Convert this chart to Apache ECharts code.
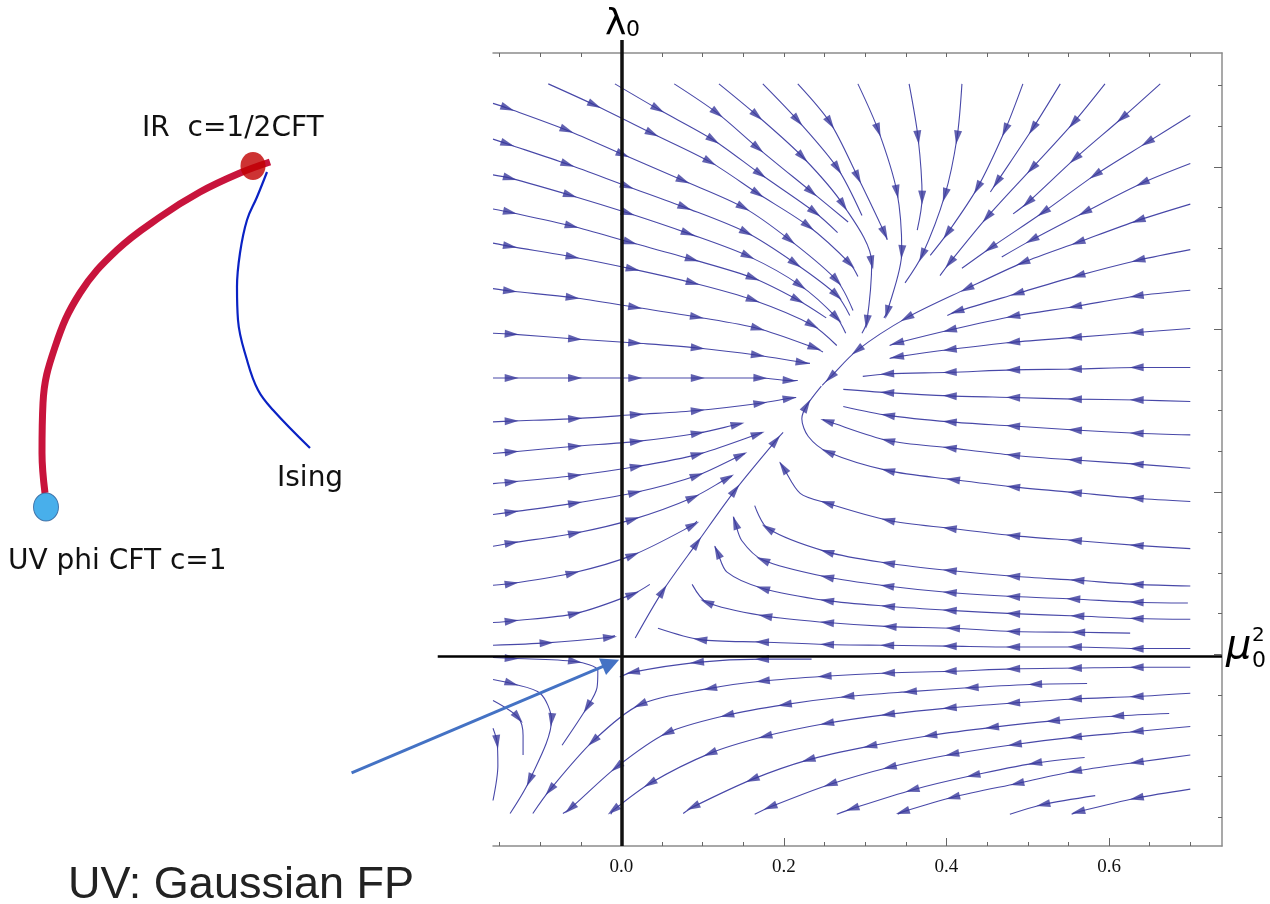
<!DOCTYPE html>
<html>
<head>
<meta charset="utf-8">
<script src="https://cdn.jsdelivr.net/npm/echarts@6/dist/echarts.min.js"></script>
<style>
  html, body { margin: 0; padding: 0; background: #fff; }
  #chart { width: 1270px; height: 904px; }
</style>
</head>
<body>
<div id="chart"></div>
<script>
// flow diagram: mu0^2 horizontally, lambda0 vertically
const xRange = [-0.158, 0.739];
const yRange = [-0.236, 0.740];
const xMinorTicks = [-0.15, -0.1, -0.05, 0, 0.05, 0.1, 0.15, 0.2, 0.25, 0.3, 0.35, 0.4, 0.45, 0.5, 0.55, 0.6, 0.65, 0.7];
const xLabelTicks = [0, 0.2, 0.4, 0.6];
const yMinorTicks = [-0.2, -0.15, -0.1, -0.05, 0, 0.05, 0.1, 0.15, 0.2, 0.25, 0.3, 0.35, 0.4, 0.45, 0.5, 0.55, 0.6, 0.65, 0.7];
const yMajorTicks = [0, 0.2, 0.4, 0.6];

// streamlines, in flow order. first / last point = ends of the line,
// points in between carry an arrowhead, unless marked with a trailing 0 (bend only)
const leftRows = [
  [[-0.158,0.678],[-0.140,0.672],[-0.067,0.645],[0.002,0.615],[0.076,0.583],[0.150,0.550],[0.207,0.510],[0.265,0.460],[0.285,0.423]],
  [[-0.158,0.634],[-0.140,0.628],[-0.066,0.603],[0.007,0.576],[0.078,0.550],[0.154,0.519],[0.214,0.481],[0.265,0.442],[0.281,0.417]],
  [[-0.158,0.590],[-0.137,0.586],[-0.063,0.565],[0.008,0.543],[0.082,0.518],[0.156,0.490],[0.220,0.454],[0.265,0.414],[0.276,0.395]],
  [[-0.158,0.548],[-0.137,0.544],[-0.061,0.527],[0.011,0.507],[0.087,0.486],[0.162,0.463],[0.217,0.436],[0.252,0.414]],
  [[-0.158,0.506],[-0.137,0.502],[-0.060,0.489],[0.014,0.474],[0.088,0.457],[0.162,0.436],[0.235,0.405],[0.265,0.380]],
  [[-0.158,0.450],[-0.137,0.447],[-0.060,0.439],[0.017,0.427],[0.093,0.415],[0.168,0.401],[0.238,0.377],[0.248,0.372]],
  [[-0.158,0.395],[-0.135,0.394],[-0.057,0.388],[0.017,0.383],[0.094,0.377],[0.168,0.368],[0.223,0.359],[0.232,0.358]],
  [[-0.158,0.340],[-0.135,0.340],[-0.057,0.340],[0.017,0.340],[0.094,0.340],[0.171,0.340],[0.207,0.337],[0.217,0.337]],
  [[-0.158,0.286],[-0.135,0.287],[-0.057,0.290],[0.019,0.295],[0.094,0.300],[0.171,0.309],[0.207,0.315],[0.215,0.316]],
  [[-0.158,0.247],[-0.135,0.249],[-0.057,0.256],[0.019,0.262],[0.094,0.272],[0.143,0.283],[0.148,0.284]],
  [[-0.158,0.210],[-0.135,0.212],[-0.057,0.220],[0.019,0.231],[0.094,0.246],[0.168,0.271],[0.173,0.273]],
  [[-0.158,0.172],[-0.135,0.175],[-0.057,0.186],[0.017,0.199],[0.093,0.220],[0.147,0.245],[0.152,0.247]],
  [[-0.158,0.133],[-0.135,0.137],[-0.057,0.149],[0.014,0.166],[0.088,0.193],[0.131,0.217],[0.136,0.219]],
  [[-0.158,0.085],[-0.135,0.087],[-0.060,0.100],[0.014,0.122],[0.088,0.159],[0.093,0.164]],
  [[-0.158,0.039],[-0.135,0.041],[-0.057,0.050],[0.014,0.074],[0.035,0.086]],
  [[-0.158,0.011],[-0.092,0.014],[-0.014,0.021],[-0.008,0.023]]
];

const topLines = [
  [[-0.090,0.702],[-0.033,0.676],[0.038,0.641],[0.109,0.606],[0.168,0.567],[0.230,0.527],[0.281,0.481],[0.291,0.465]],
  [[-0.008,0.702],[0.045,0.671],[0.113,0.633],[0.171,0.591],[0.238,0.544],[0.266,0.519]],
  [[0.065,0.702],[0.118,0.666],[0.168,0.623],[0.234,0.569],[0.279,0.532]],
  [[0.120,0.702],[0.167,0.663],[0.223,0.612],[0.273,0.553],[0.308,0.482],[0.302,0.409],[0.296,0.395]],
  [[0.174,0.702],[0.217,0.657],[0.266,0.598],[0.296,0.540]],
  [[0.217,0.702],[0.257,0.654],[0.291,0.587],[0.324,0.518],[0.327,0.510]],
  [[0.291,0.702],[0.316,0.645],[0.339,0.569],[0.345,0.495],[0.327,0.421],[0.323,0.414]],
  [[0.354,0.702],[0.365,0.636],[0.370,0.562],[0.364,0.522]],
  [[0.419,0.702],[0.413,0.636],[0.398,0.565],[0.370,0.491],[0.349,0.457]],
  [[0.494,0.702],[0.472,0.645],[0.438,0.574],[0.401,0.518],[0.380,0.491]],
  [[0.540,0.702],[0.506,0.647],[0.462,0.581],[0.454,0.569]],
  [[0.595,0.702],[0.556,0.654],[0.505,0.598],[0.450,0.538],[0.404,0.482],[0.392,0.466]],
  [[0.663,0.702],[0.616,0.660],[0.558,0.610],[0.500,0.556],[0.482,0.542]]
];

const rightRows = [
  [[0.700,0.663],[0.647,0.630],[0.583,0.590],[0.519,0.544],[0.454,0.500],[0.419,0.475]],
  [[0.700,0.604],[0.641,0.580],[0.570,0.544],[0.505,0.510],[0.468,0.489]],
  [[0.700,0.554],[0.636,0.534],[0.562,0.507],[0.494,0.482],[0.425,0.450],[0.351,0.414],[0.290,0.374],[0.257,0.341],[0.247,0.331]],
  [[0.700,0.498],[0.636,0.485],[0.562,0.466],[0.487,0.444],[0.413,0.422],[0.401,0.417]],
  [[0.700,0.448],[0.634,0.441],[0.558,0.428],[0.482,0.416],[0.404,0.399],[0.339,0.383],[0.330,0.380]],
  [[0.700,0.401],[0.634,0.396],[0.558,0.390],[0.482,0.384],[0.404,0.375],[0.339,0.366],[0.330,0.364]],
  [[0.700,0.353],[0.634,0.353],[0.558,0.351],[0.482,0.350],[0.404,0.347],[0.327,0.345],[0.297,0.342]],
  [[0.700,0.311],[0.634,0.313],[0.558,0.314],[0.482,0.316],[0.404,0.318],[0.327,0.322],[0.273,0.326]],
  [[0.700,0.270],[0.634,0.272],[0.558,0.276],[0.482,0.281],[0.404,0.286],[0.328,0.294],[0.273,0.305]],
  [[0.700,0.229],[0.634,0.234],[0.558,0.239],[0.482,0.245],[0.404,0.254],[0.328,0.263],[0.253,0.287],[0.248,0.289]],
  [[0.700,0.188],[0.634,0.192],[0.558,0.199],[0.482,0.206],[0.408,0.215],[0.328,0.226],[0.254,0.249],[0.230,0.268,0],[0.222,0.290,0],[0.228,0.306],[0.246,0.330]],
  [[0.700,0.130],[0.634,0.134],[0.558,0.140],[0.482,0.146],[0.404,0.155],[0.328,0.165],[0.253,0.186],[0.220,0.198,0],[0.199,0.230],[0.195,0.236]],
  [[0.700,0.084],[0.634,0.086],[0.561,0.091],[0.482,0.096],[0.404,0.103],[0.328,0.112],[0.253,0.126],[0.180,0.155],[0.164,0.183]],
  [[0.697,0.063],[0.634,0.064],[0.556,0.068],[0.482,0.071],[0.404,0.076],[0.327,0.084],[0.253,0.095],[0.174,0.116],[0.148,0.140,0],[0.140,0.162],[0.138,0.169]],
  [[0.700,0.043],[0.634,0.044],[0.561,0.047],[0.482,0.050],[0.404,0.054],[0.328,0.059],[0.253,0.066],[0.174,0.081],[0.130,0.101,0],[0.118,0.126],[0.115,0.133]],
  [[0.626,0.026],[0.562,0.027],[0.482,0.028],[0.408,0.032],[0.330,0.034],[0.253,0.039],[0.177,0.047],[0.105,0.064],[0.087,0.086]],
  [[0.700,0.007],[0.634,0.007],[0.558,0.009],[0.482,0.009],[0.404,0.010],[0.327,0.011],[0.253,0.012],[0.173,0.015],[0.097,0.018],[0.045,0.032]],
  [[0.017,0.020],[0.051,0.078],[0.093,0.137],[0.140,0.202],[0.190,0.263],[0.199,0.273]]
];

const lowerRows = [
  [[0.234,-0.006],[0.173,-0.006],[0.093,-0.010],[0.014,-0.022],[-0.002,-0.028]],
  [[0.700,-0.016],[0.634,-0.016],[0.558,-0.017],[0.482,-0.018],[0.404,-0.021],[0.328,-0.023],[0.250,-0.027],[0.174,-0.033],[0.109,-0.042],[0.023,-0.062],[-0.035,-0.107],[-0.088,-0.167],[-0.109,-0.196]],
  [[0.573,-0.036],[0.509,-0.037],[0.431,-0.041],[0.355,-0.046],[0.278,-0.052],[0.201,-0.062],[0.130,-0.075],[0.056,-0.097],[-0.006,-0.139],[-0.063,-0.190],[-0.072,-0.196]],
  [[0.700,-0.048],[0.634,-0.052],[0.558,-0.055],[0.482,-0.060],[0.404,-0.066],[0.328,-0.074],[0.253,-0.085],[0.177,-0.101],[0.109,-0.122],[0.035,-0.159],[-0.010,-0.192],[-0.013,-0.197]],
  [[0.674,-0.073],[0.610,-0.076],[0.531,-0.082],[0.456,-0.090],[0.380,-0.100],[0.306,-0.113],[0.230,-0.130],[0.161,-0.154],[0.088,-0.188],[0.076,-0.196]],
  [[0.700,-0.089],[0.634,-0.095],[0.558,-0.102],[0.484,-0.111],[0.407,-0.123],[0.330,-0.139],[0.257,-0.160],[0.183,-0.188],[0.164,-0.197]],
  [[0.570,-0.127],[0.509,-0.134],[0.433,-0.149],[0.358,-0.167],[0.284,-0.190],[0.265,-0.197]],
  [[0.700,-0.124],[0.634,-0.133],[0.558,-0.144],[0.487,-0.159],[0.408,-0.176],[0.346,-0.194],[0.340,-0.197]],
  [[0.583,-0.174],[0.519,-0.185],[0.478,-0.197]],
  [[0.700,-0.166],[0.634,-0.177],[0.562,-0.194],[0.554,-0.197]]
];

const cornerLines = [
  [[-0.158,-0.004],[-0.135,-0.005],[-0.057,-0.009],[-0.029,-0.020,0],[-0.030,-0.041,0],[-0.042,-0.065],[-0.073,-0.112]],
  [[-0.158,-0.031],[-0.135,-0.036],[-0.100,-0.048,0],[-0.086,-0.081],[-0.113,-0.155],[-0.137,-0.196]],
  [[-0.158,-0.057],[-0.127,-0.078],[-0.121,-0.100,0],[-0.121,-0.124]],
  [[-0.158,-0.091],[-0.153,-0.108],[-0.152,-0.137,0],[-0.158,-0.180]]
];

// coordinate axes drawn through the plot, and the pointer to the Gaussian point
const muAxis = [[-0.226, -0.002], [0.739, -0.002]];
const lambdaAxis = [[0, 0.756], [0, -0.236]];
const pointer = [[-0.332, -0.146], [-0.013, -0.011]];

// left sketch (its own panel, 470 x 904 units, y downwards)
const redPath = [[45,493],[42,453],[43,403],[55,347],[80,293],[117,250],[160,217],[200,192],[240,173],[270,162]];
const isingPath = [[267,172],[257,197],[247,220],[240,253],[237,287],[238,320],[247,360],[258,390],[273,410],[310,448]];
const irPoint = [[253,166]];
const uvPoint = [[46,507]];

const chart = echarts.init(document.getElementById('chart'));

const allStreams = [].concat(leftRows, topLines, rightRows, lowerRows, cornerLines);

const streamSeries = allStreams.map(pts => ({
  type: 'line',
  xAxisIndex: 0,
  yAxisIndex: 0,
  data: pts.map(p => [p[0], p[1]]),
  smooth: 0.3,
  symbol: 'none',
  silent: true,
  lineStyle: { color: '#4848a8', width: 1.1 },
  z: 3
}));

// arrowheads on the inner points, pointing along the line
const heads = [];
allStreams.forEach(pts => {
  for (let i = 1; i < pts.length - 1; i++) {
    if (pts[i][2] === 0) continue;
    const a = pts[i - 1], b = pts[i + 1];
    const ang = Math.atan2(b[1] - a[1], b[0] - a[0]) * 180 / Math.PI;
    heads.push({ value: [pts[i][0], pts[i][1]], symbolRotate: ang - 90 });
  }
});

const frameLine = { show: true, onZero: false, lineStyle: { color: '#8c8c8c', width: 1.5 } };
const tickStyle = { color: '#666', width: 1 };

function straight(coords, color, width, symbol, symbolSize) {
  return {
    type: 'lines', coordinateSystem: 'cartesian2d', xAxisIndex: 0, yAxisIndex: 0,
    polyline: false, clip: false, silent: true, z: 6,
    data: [{ coords: coords }],
    symbol: symbol || 'none', symbolSize: symbolSize || 10,
    lineStyle: { color: color, width: width, opacity: 1, curveness: 0 }
  };
}

chart.setOption({
  animation: false,
  backgroundColor: '#fff',
  grid: [
    { left: 493, top: 53, width: 729, height: 793 },
    { left: 0, top: 0, width: 470, height: 904 }
  ],
  xAxis: [
    {
      gridIndex: 0, type: 'value', position: 'bottom', min: xRange[0], max: xRange[1],
      axisLine: frameLine,
      axisTick: { show: true, inside: true, length: 4, customValues: xMinorTicks, lineStyle: tickStyle },
      axisLabel: {
        customValues: xLabelTicks, formatter: v => v.toFixed(1), margin: 12,
        fontFamily: 'Liberation Serif', fontSize: 19, color: '#111'
      },
      splitLine: { show: false }
    },
    {
      gridIndex: 0, type: 'value', position: 'bottom', min: xRange[0], max: xRange[1],
      axisLine: { show: false, onZero: false },
      axisTick: { show: true, inside: true, length: 8, customValues: xLabelTicks, lineStyle: tickStyle },
      axisLabel: { show: false, customValues: xLabelTicks },
      splitLine: { show: false }
    },
    {
      gridIndex: 0, type: 'value', position: 'top', min: xRange[0], max: xRange[1],
      axisLine: frameLine,
      axisTick: { show: true, inside: true, length: 4, customValues: xMinorTicks, lineStyle: tickStyle },
      axisLabel: { show: false, customValues: xMinorTicks },
      splitLine: { show: false }
    },
    { gridIndex: 1, type: 'value', min: 0, max: 470, show: false }
  ],
  yAxis: [
    {
      gridIndex: 0, type: 'value', position: 'right', min: yRange[0], max: yRange[1],
      axisLine: frameLine,
      axisTick: { show: true, inside: true, length: 4, customValues: yMinorTicks, lineStyle: tickStyle },
      axisLabel: { show: false, customValues: yMinorTicks },
      splitLine: { show: false }
    },
    {
      gridIndex: 0, type: 'value', position: 'right', min: yRange[0], max: yRange[1],
      axisLine: { show: false, onZero: false },
      axisTick: { show: true, inside: true, length: 8, customValues: yMajorTicks, lineStyle: tickStyle },
      axisLabel: { show: false, customValues: yMajorTicks },
      splitLine: { show: false }
    },
    { gridIndex: 1, type: 'value', min: 0, max: 904, inverse: true, show: false }
  ],
  series: streamSeries.concat([
    {
      type: 'scatter', xAxisIndex: 0, yAxisIndex: 0, data: heads,
      symbol: 'triangle', symbolSize: [8, 14], silent: true,
      itemStyle: { color: '#3a3a9c' }, z: 4
    },
    straight(muAxis, '#000', 2.5),
    straight(lambdaAxis, '#111', 3.5),
    straight(pointer, '#4472C4', 3, ['none', 'triangle'], [1, 18]),
    // left sketch
    {
      type: 'line', xAxisIndex: 3, yAxisIndex: 2, data: redPath, smooth: 0.4, symbol: 'none',
      lineStyle: { color: '#C8143C', width: 7 }, silent: true, z: 3
    },
    {
      type: 'line', xAxisIndex: 3, yAxisIndex: 2, data: isingPath, smooth: 0.4, symbol: 'none',
      lineStyle: { color: '#0A22C4', width: 2.2 }, silent: true, z: 3
    },
    {
      type: 'scatter', xAxisIndex: 3, yAxisIndex: 2, data: irPoint, symbol: 'circle',
      symbolSize: [25, 28], itemStyle: { color: '#C00000' }, silent: true, z: 5
    },
    {
      type: 'scatter', xAxisIndex: 3, yAxisIndex: 2, data: uvPoint, symbol: 'circle',
      symbolSize: [25, 28], itemStyle: { color: '#1A9BE6', borderColor: '#2F5D95', borderWidth: 1 },
      silent: true, z: 5
    }
  ]),
  graphic: [
    { type: 'text', x: 142, y: 129, silent: true,
      style: { text: 'IR  c=1/2CFT', font: '28px "DejaVu Sans"', fill: '#111', verticalAlign: 'middle' } },
    { type: 'text', x: 277, y: 479, silent: true,
      style: { text: 'Ising', font: '28px "DejaVu Sans"', fill: '#111', verticalAlign: 'middle' } },
    { type: 'text', x: 8, y: 562, silent: true,
      style: { text: 'UV phi CFT c=1', font: '28px "DejaVu Sans"', fill: '#111', verticalAlign: 'middle' } },
    { type: 'text', x: 68, y: 886, silent: true,
      style: { text: 'UV: Gaussian FP', font: '45px "Liberation Sans"', fill: '#222', verticalAlign: 'middle' } },
    { type: 'text', x: 605, y: 25, silent: true,
      style: { text: 'λ', font: '36px "DejaVu Sans"', fill: '#000', verticalAlign: 'middle' } },
    { type: 'text', x: 626, y: 30, silent: true,
      style: { text: '0', font: '22px "DejaVu Sans"', fill: '#000', verticalAlign: 'middle' } },
    { type: 'text', x: 1226, y: 648, silent: true,
      style: { text: 'μ', font: 'italic 40px "DejaVu Sans"', fill: '#000', verticalAlign: 'middle' } },
    { type: 'text', x: 1252, y: 636, silent: true,
      style: { text: '2', font: '20px "DejaVu Sans"', fill: '#000', verticalAlign: 'middle' } },
    { type: 'text', x: 1252, y: 661, silent: true,
      style: { text: '0', font: '22px "DejaVu Sans"', fill: '#000', verticalAlign: 'middle' } }
  ]
});
</script>
</body>
</html>
